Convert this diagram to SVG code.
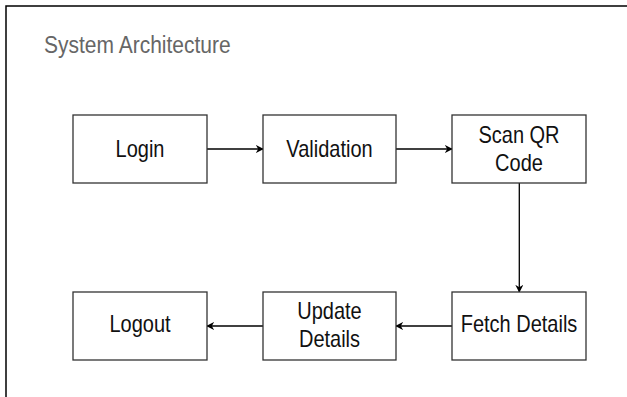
<svg xmlns="http://www.w3.org/2000/svg" width="627" height="397" viewBox="0 0 627 397">
<style>
.box{fill:#fff;stroke:#333;stroke-width:1.3}
.lbl{font-family:Arial,"Liberation Sans",Helvetica,sans-serif;font-size:20px;fill:#111;text-anchor:middle}
.title{font-family:Arial,"Liberation Sans",Helvetica,sans-serif;font-size:21px;fill:#666}
.edge{fill:none;stroke:#000;stroke-width:1.3;marker-end:url(#arr)}
</style>
<defs>
<marker id="arr" viewBox="0 0 10 10" refX="9" refY="5" markerWidth="8" markerHeight="8" markerUnits="userSpaceOnUse" orient="auto">
<path d="M0,0 L10,5 L0,10 L3,5 Z" fill="#000"/>
</marker>
</defs>
<rect x="0" y="0" width="627" height="397" fill="#fff"/>
<path d="M6,397 V6 H627" fill="none" stroke="#000" stroke-width="1.5"/>
<text class="title" transform="translate(44,53.3) scale(1,1.1)">System Architecture</text>
<g id="connectors">
<line class="edge" x1="207" y1="149" x2="263" y2="149"/>
<line class="edge" x1="396" y1="149" x2="452" y2="149"/>
<line class="edge" x1="519.3" y1="183" x2="519.3" y2="292"/>
<line class="edge" x1="452" y1="326" x2="396" y2="326"/>
<line class="edge" x1="263" y1="326" x2="207" y2="326"/>
</g>
<g id="login">
<rect class="box" x="73" y="115" width="134" height="68"/>
<text class="lbl" transform="translate(140,157.3) scale(1,1.17)">Login</text>
</g>
<g id="validation">
<rect class="box" x="263" y="115" width="133" height="68"/>
<text class="lbl" transform="translate(329.5,157.3) scale(1,1.17)">Validation</text>
</g>
<g id="scanqr">
<rect class="box" x="452" y="115" width="134" height="68"/>
<text class="lbl" transform="translate(519,143.3) scale(1,1.17)">Scan QR</text>
<text class="lbl" transform="translate(519,171) scale(1,1.17)">Code</text>
</g>
<g id="fetch">
<rect class="box" x="452" y="292" width="134" height="68"/>
<text class="lbl" transform="translate(519,331.7) scale(1,1.17)">Fetch Details</text>
</g>
<g id="update">
<rect class="box" x="263" y="292" width="133" height="68"/>
<text class="lbl" transform="translate(329.5,319.3) scale(1,1.17)">Update</text>
<text class="lbl" transform="translate(329.5,347) scale(1,1.17)">Details</text>
</g>
<g id="logout">
<rect class="box" x="73" y="292" width="134" height="68"/>
<text class="lbl" transform="translate(140,331.7) scale(1,1.17)">Logout</text>
</g>
</svg>
